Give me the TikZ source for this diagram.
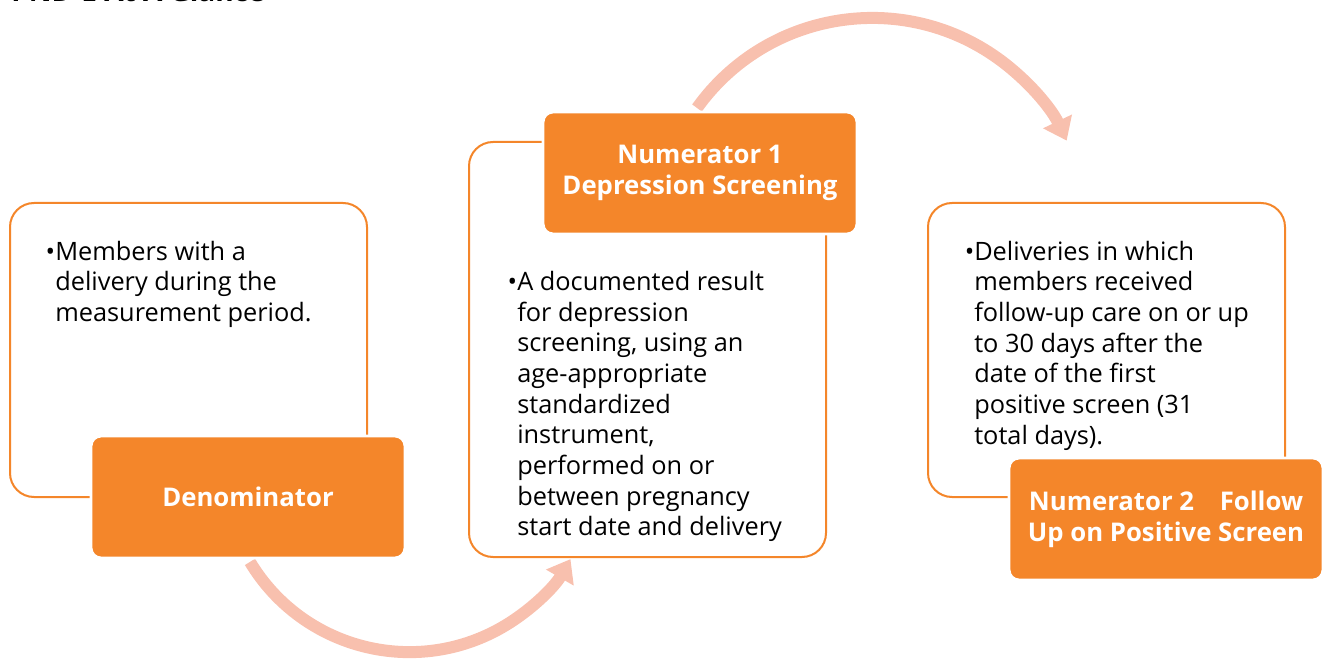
\documentclass[tikz,border=0pt]{standalone}
\usepackage{fontspec}
\setmainfont{Open Sans}
\usetikzlibrary{arrows.meta}
\definecolor{orangefill}{HTML}{F4862A}
\definecolor{arrowcol}{HTML}{F8C0AE}
\tikzset{
  whitebox/.style={draw=orangefill, line width=1.5pt, rounded corners=18pt, fill=white, inner sep=0pt},
  orangebox/.style={draw=white, line width=2.2pt, rounded corners=7.5pt, fill=orangefill, inner sep=0pt,
     minimum width=235.5pt, minimum height=91.5pt, text=white, align=center,
     font=\bfseries\fontsize{19.3}{23}\selectfont},
  bodytext/.style={anchor=north west, inner sep=0pt, align=left, text=black,
     font=\fontsize{19}{23}\selectfont},
  flow/.style={draw=arrowcol, line width=9pt, -{Triangle[width=23pt,length=16pt]}},
}
\begin{document}
\begin{tikzpicture}[x=0.75pt,y=0.75pt]
\useasboundingbox (0,0) rectangle (1324,658);
% title (clipped at top of page, as in the reference)
\node[anchor=base west, inner sep=0pt, font=\bfseries\fontsize{21}{25}\selectfont] (title) at (11,656.5) {PND-E At A Glance};
% arrows
\coordinate (a1s) at ([shift={(211:139.5pt)}]409.4,191.9);
\draw[flow] (a1s) arc[start angle=211, end angle=330, radius=139.5pt];
\coordinate (a2s) at ([shift={(144.4:161.6pt)}]872.2,424.6);
\draw[flow] (a2s) arc[start angle=144.4, end angle=25.5, radius=161.6pt];
% boxes
\node[whitebox, minimum width=267.75pt, minimum height=220.5pt] (dw) at (188.5,308) {};
\node[orangebox] (d) at (248,161) {Denominator};
\node[whitebox, minimum width=267.75pt, minimum height=311.25pt] (n1w) at (647.5,308.5) {};
\node[orangebox] (n1) at (700,485) {Numerator 1 \\ Depression Screening};
\node[whitebox, minimum width=267.75pt, minimum height=220.5pt] (n2w) at (1106.5,308) {};
\node[orangebox] (n2) at (1166,139) {Numerator 2\quad Follow\\Up on Positive Screen};
% body texts
\node[bodytext] (dt) at (55,417.5) {\llap{•}Members with a\\delivery during the\\measurement period.};
\node[bodytext] (n1t) at (517,387) {\llap{•}A documented result\\for depression\\screening, using an\\age-appropriate\\standardized\\instrument,\\performed on or\\between pregnancy\\start date and delivery};
\node[bodytext] (n2t) at (974,417.5) {\llap{•}Deliveries in which\\members received\\follow-up care on or up\\to 30 days after the\\date of the first\\positive screen (31\\total days).};
\end{tikzpicture}
\end{document}
